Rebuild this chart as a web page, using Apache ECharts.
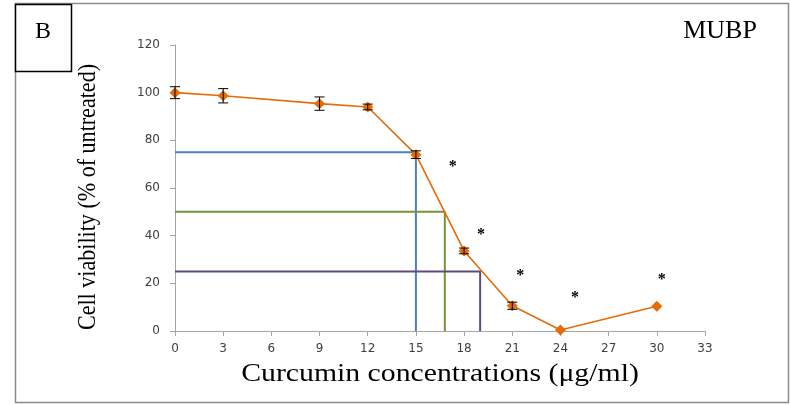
<!DOCTYPE html>
<html>
<head>
<meta charset="utf-8">
<script src="https://cdn.jsdelivr.net/npm/echarts@6/dist/echarts.min.js"></script>
<style>
  html, body { margin: 0; padding: 0; background: #fff; }
  #chart { width: 790px; height: 405px; }
</style>
</head>
<body>
<div id="chart"></div>
<script>
// Curcumin dose (µg/ml) and MUBP cell viability (% of untreated)
var doses = [0, 3, 9, 12, 15, 18, 21, 24, 30];
var viability = [100, 98.7, 95.4, 94, 74, 33.6, 10.6, 0.4, 10.4];
var errors = [2.5, 3, 2.8, 1.2, 1.6, 1.2, 1.5, 0, 0];

// IC75 / IC50 / IC25 read-off guides: [dose, level]
var guideBlue = [[0, 75], [15, 75], [15, 0]];
var guideGreen = [[0, 50], [16.8, 50], [16.8, 0]];
var guidePurple = [[0, 25], [19, 25], [19, 0]];

// significance marks
var starPoints = [[17.3, 69], [19.05, 40.5], [21.5, 23], [24.9, 13.8], [30.3, 21.5]];

var xTicks = [0, 3, 6, 9, 12, 15, 18, 21, 24, 27, 30, 33];

var chart = echarts.init(document.getElementById('chart'), null, { renderer: 'canvas' });

var mainData = doses.map(function (d, i) { return [d, viability[i]]; });
var errData = doses.map(function (d, i) { return [d, viability[i] - errors[i], viability[i] + errors[i]]; });

function guideSeries(data, color) {
  return {
    type: 'line',
    data: data,
    symbol: 'none',
    lineStyle: { color: color, width: 2 },
    z: 2,
    silent: true
  };
}

chart.setOption({
  animation: false,
  grid: { left: 175, right: 85, top: 45, bottom: 74 },
  xAxis: {
    type: 'value',
    min: 0, max: 33, interval: 3,
    axisLine: { lineStyle: { color: '#a6a6a6', width: 1 } },
    axisTick: { show: true, length: 5, lineStyle: { color: '#a6a6a6' } },
    axisLabel: {
      color: '#404040', fontFamily: 'DejaVu Sans', fontSize: 12, margin: 12,
      formatter: function (v) { return xTicks.indexOf(v) >= 0 ? String(v) : ''; }
    },
    splitLine: { show: false }
  },
  yAxis: {
    type: 'value',
    min: 0, max: 120, interval: 20,
    axisLine: { show: true, lineStyle: { color: '#a6a6a6', width: 1 } },
    axisTick: { show: true, length: 5, lineStyle: { color: '#a6a6a6' } },
    axisLabel: { color: '#404040', fontFamily: 'DejaVu Sans', fontSize: 12, margin: 15 },
    splitLine: { show: false }
  },
  series: [
    guideSeries(guideBlue, '#4f81bd'),
    guideSeries(guideGreen, '#77933c'),
    guideSeries(guidePurple, '#604a7b'),
    {
      type: 'line',
      data: mainData,
      symbol: 'diamond',
      symbolSize: 11,
      itemStyle: { color: '#e46c0a' },
      lineStyle: { color: '#e46c0a', width: 1.6 },
      z: 3
    },
    {
      type: 'custom',
      data: errData,
      z: 4,
      renderItem: function (params, api) {
        var x = api.value(0);
        var lo = api.coord([x, api.value(1)]);
        var hi = api.coord([x, api.value(2)]);
        if (Math.abs(lo[1] - hi[1]) < 0.5) return null;
        var w = 5;
        var s = { stroke: '#000', lineWidth: 1 };
        return {
          type: 'group',
          children: [
            { type: 'line', shape: { x1: lo[0], y1: lo[1], x2: hi[0], y2: hi[1] }, style: s },
            { type: 'line', shape: { x1: lo[0] - w, y1: lo[1], x2: lo[0] + w, y2: lo[1] }, style: s },
            { type: 'line', shape: { x1: hi[0] - w, y1: hi[1], x2: hi[0] + w, y2: hi[1] }, style: s }
          ]
        };
      }
    },
    {
      type: 'custom',
      data: starPoints,
      z: 5,
      renderItem: function (params, api) {
        var p = api.coord([api.value(0), api.value(1)]);
        return {
          type: 'text',
          x: p[0], y: p[1],
          style: {
            text: '*', fill: '#000',
            font: 'bold 16px "Liberation Serif"',
            align: 'center', verticalAlign: 'middle'
          }
        };
      }
    }
  ],
  graphic: [
    {
      type: 'rect', z: -10,
      shape: { x: 15.5, y: 3.5, width: 773, height: 399 },
      style: { fill: '#fff', stroke: '#8c8c8c', lineWidth: 1.5 }
    },
    {
      type: 'rect', z: 10,
      shape: { x: 15.5, y: 4.5, width: 56, height: 67 },
      style: { fill: '#fff', stroke: '#000', lineWidth: 1.5 }
    },
    {
      type: 'text', z: 11,
      x: 43, y: 32,
      style: { text: 'B', font: '24px "Liberation Serif"', fill: '#000', align: 'center', verticalAlign: 'middle' }
    },
    {
      type: 'text', z: 11,
      x: 720, y: 31,
      style: { text: 'MUBP', font: '26px "Liberation Serif"', fill: '#000', align: 'center', verticalAlign: 'middle' }
    },
    {
      type: 'text', z: 11,
      x: 88, y: 197,
      rotation: Math.PI / 2,
      scaleX: 0.92, scaleY: 1.05,
      style: { text: 'Cell viability (% of untreated)', font: '24px "Liberation Serif"', fill: '#000', align: 'center', verticalAlign: 'middle' }
    },
    {
      type: 'text', z: 11,
      x: 440, y: 374,
      scaleX: 1.19, scaleY: 1,
      style: { text: 'Curcumin concentrations (\u03bcg/ml)', font: '25px "Liberation Serif"', fill: '#000', align: 'center', verticalAlign: 'middle' }
    }
  ]
});
</script>
</body>
</html>
